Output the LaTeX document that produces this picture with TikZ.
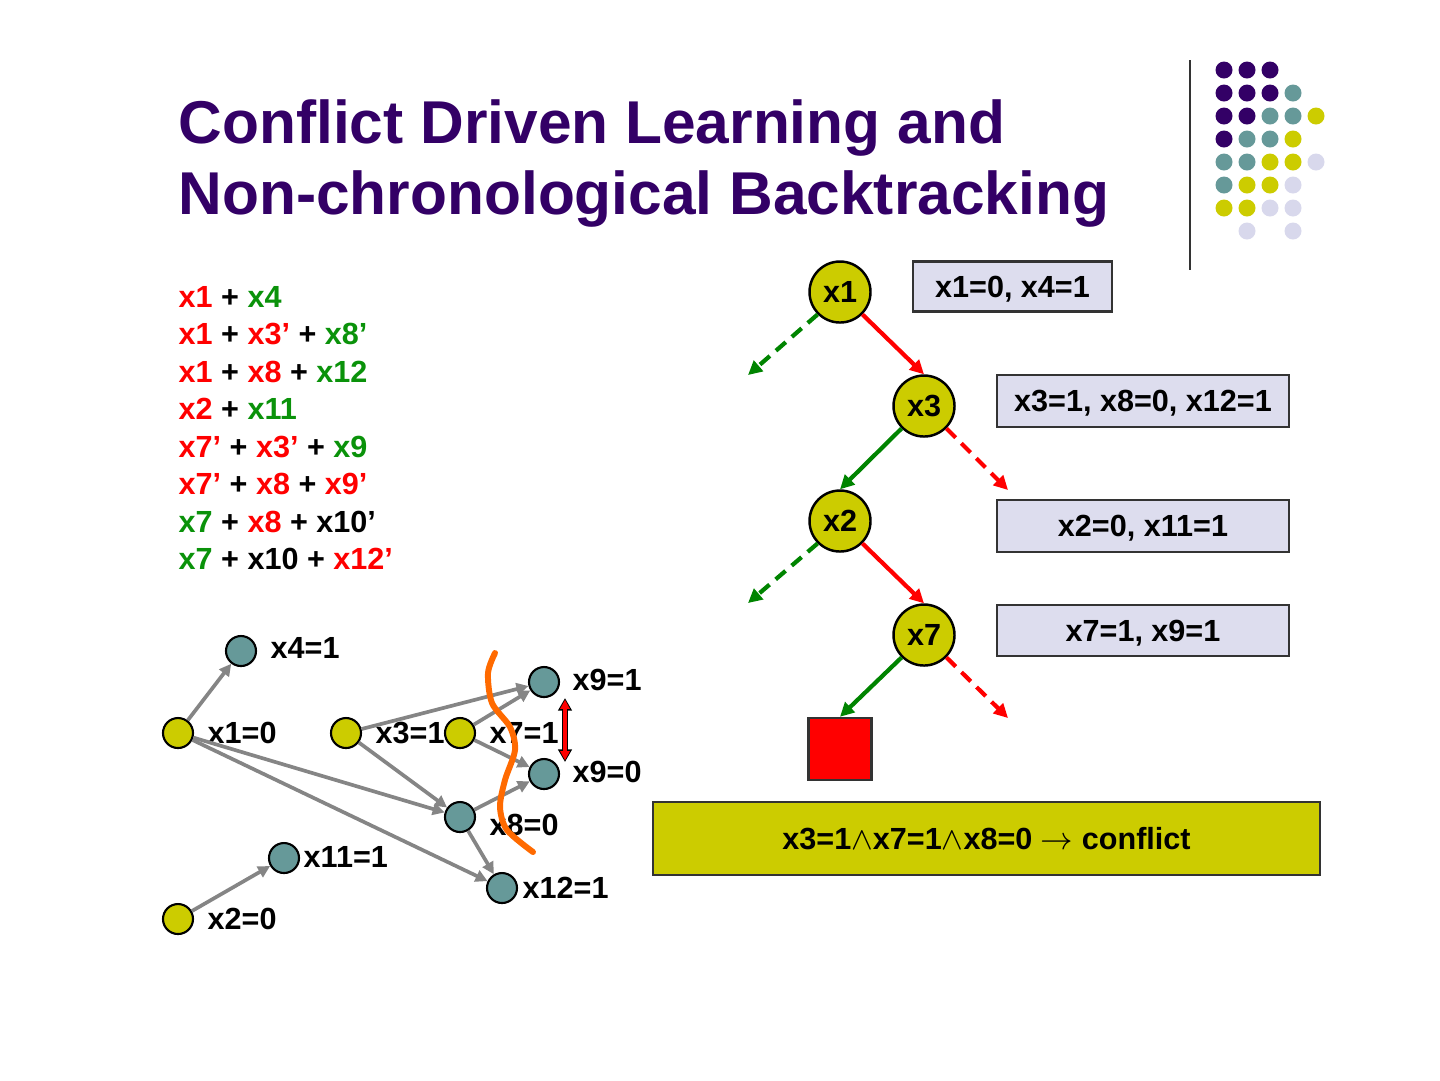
\documentclass[tikz,border=0pt]{standalone}
\usepackage{fontspec}
\setmainfont{Liberation Sans}
\usepackage{amsmath}
\usetikzlibrary{arrows.meta,positioning}
\definecolor{TitlePurple}{HTML}{330066}
\definecolor{NodeYellow} {HTML}{CCCC00}
\definecolor{NodeTeal}   {HTML}{669999}
\definecolor{BoxLavender}{HTML}{DDDDEE}
\definecolor{DotLavender}{HTML}{D8D8EC}
\definecolor{EdgeGray}   {HTML}{858585}
\definecolor{AccentRed}  {HTML}{FF0000}
\definecolor{AccentGreen}{HTML}{0A920A}
\definecolor{TreeGreen}  {HTML}{008400}
\definecolor{CutOrange}  {HTML}{FF6A00}
\newcommand{\litR}[1]{\textcolor{AccentRed}{#1}}
\newcommand{\litG}[1]{\textcolor{AccentGreen}{#1}}
\tikzset{
  ttl/.style={inner sep=0pt,font=\fontsize{17.2}{20}\selectfont\bfseries\color{TitlePurple}},
  cls/.style={anchor=base west,inner sep=0pt,font=\fontsize{8.7}{10.4}\selectfont\bfseries},
  glbl/.style={anchor=west,inner sep=0pt,font=\fontsize{8.7}{10.4}\selectfont\bfseries},
  yvar/.style={circle,draw=black,line width=0.6pt,fill=NodeYellow,
               minimum size=3mm,inner sep=0pt},
  tvar/.style={circle,draw=black,line width=0.6pt,fill=NodeTeal,
               minimum size=3mm,inner sep=0pt},
  tnode/.style={circle,draw=black,line width=0.7pt,fill=NodeYellow,
                minimum size=6.1mm,inner sep=0pt,
                font=\fontsize{8.7}{10.4}\selectfont\bfseries},
  abox/.style={rectangle,draw=black!80,line width=0.7pt,fill=BoxLavender,
               minimum height=5mm,inner sep=0pt,text height=6.2pt,text depth=0pt,
               font=\fontsize{8.7}{10.4}\selectfont\bfseries},
  gedge/.style={-{Triangle[length=3.4pt,width=3.4pt]},EdgeGray,line width=1.05pt},
  tarr/.style={-{Triangle[length=4pt,width=3.9pt]},line width=1.2pt},
  tdash/.style={tarr,dash pattern=on 3.7pt off 2.3pt},
  cut/.style={CutOrange,line width=1.7pt,line cap=round},
}
\begin{document}
\begin{tikzpicture}[x=0.1mm,y=-0.1mm]
  \useasboundingbox (0,0) rectangle (1440,1080);

  % title
  \node[ttl,anchor=base west] (title1) at (178,143) {Conflict Driven Learning and};
  \node[ttl,anchor=base west] (title2) at (178,214) {Non-chronological Backtracking};

  % corner decoration
  \draw[black!80,line width=0.6pt] (1190,60) -- (1190,270);
  \fill[TitlePurple] (1224,70) circle (0.85mm) (1247,70) circle (0.85mm) (1270,70) circle (0.85mm)
    (1224,93) circle (0.85mm) (1247,93) circle (0.85mm) (1270,93) circle (0.85mm)
    (1224,116) circle (0.85mm) (1247,116) circle (0.85mm) (1224,139) circle (0.85mm);
  \fill[NodeTeal] (1293,93) circle (0.85mm) (1270,116) circle (0.85mm) (1293,116) circle (0.85mm)
    (1247,139) circle (0.85mm) (1270,139) circle (0.85mm) (1224,162) circle (0.85mm)
    (1247,162) circle (0.85mm) (1224,185) circle (0.85mm);
  \fill[NodeYellow] (1316,116) circle (0.85mm) (1293,139) circle (0.85mm) (1270,162) circle (0.85mm)
    (1293,162) circle (0.85mm) (1247,185) circle (0.85mm) (1270,185) circle (0.85mm)
    (1224,208) circle (0.85mm) (1247,208) circle (0.85mm);
  \fill[DotLavender] (1316,162) circle (0.85mm) (1293,185) circle (0.85mm) (1270,208) circle (0.85mm)
    (1293,208) circle (0.85mm) (1247,231) circle (0.85mm) (1293,231) circle (0.85mm);

  % clauses
  \node[cls] (cl1) at (178,307.0) {\litR{x1} + \litG{x4}};
  \node[cls] (cl2) at (178,344.5) {\litR{x1} + \litR{x3'} + \litG{x8'}};
  \node[cls] (cl3) at (178,382.0) {\litR{x1} + \litR{x8} + \litG{x12}};
  \node[cls] (cl4) at (178,419.5) {\litR{x2} + \litG{x11}};
  \node[cls] (cl5) at (178,457.0) {\litR{x7'} + \litR{x3'} + \litG{x9}};
  \node[cls] (cl6) at (178,494.5) {\litR{x7'} + \litR{x8} + \litR{x9'}};
  \node[cls] (cl7) at (178,532.0) {\litG{x7} + \litR{x8} + x10'};
  \node[cls] (cl8) at (178,569.5) {\litG{x7} + x10 + \litR{x12'}};

  % implication graph
  \node[tvar] (gx4)  at (241,651) {};
  \node[glbl] (lx4)  at (270,648) {x4=1};
  \node[yvar] (gx1)  at (178,733) {};
  \node[glbl] (lx1)  at (207,733) {x1=0};
  \node[yvar] (gx3)  at (346,733) {};
  \node[glbl] (lx3)  at (375,733) {x3=1};
  \node[yvar] (gx7)  at (460,733) {};
  \node[glbl] (lx7)  at (489,733) {x7=1};
  \node[tvar] (gx9a) at (544,682) {};
  \node[glbl] (lx9a) at (572,680) {x9=1};
  \node[tvar] (gx9b) at (544,774) {};
  \node[glbl] (lx9b) at (572,772) {x9=0};
  \node[tvar] (gx8)  at (460,817) {};
  \node[glbl] (lx8)  at (489,825) {x8=0};
  \node[tvar] (gx11) at (284,858) {};
  \node[glbl] (lx11) at (303,857) {x11=1};
  \node[tvar] (gx12) at (502,888) {};
  \node[glbl] (lx12) at (522,888) {x12=1};
  \node[yvar] (gx2)  at (178,919) {};
  \node[glbl] (lx2)  at (207,919) {x2=0};

  \draw[gedge] (gx1) -- (gx4);
  \draw[gedge] (gx1) -- (gx8);
  \draw[gedge] (gx1) -- (gx12);
  \draw[gedge] (gx3) -- (gx8);
  \draw[gedge] (gx3) -- (gx9a);
  \draw[gedge] (gx7) -- (gx9a);
  \draw[gedge] (gx7) -- (gx9b);
  \draw[gedge] (gx8) -- (gx9b);
  \draw[gedge] (gx8) -- (gx12);
  \draw[gedge] (gx2) -- (gx11);

  % cut and the clash of x9
  \draw[cut] plot[smooth] coordinates {(495,653) (488,673) (492,703) (510,727) (515,750)
    (505,780) (500,807) (507,830) (533,852)};
  \coordinate (d9top) at (565,698);
  \coordinate (d9bot) at (565,762);
  \draw[{Triangle[length=3.6pt,width=3.8pt]}-{Triangle[length=3.6pt,width=3.8pt]},
        black,line width=1.7pt] (d9top) -- (d9bot);
  \draw[{Triangle[length=2.6pt,width=2.6pt]}-{Triangle[length=2.6pt,width=2.6pt]},
        AccentRed,line width=0.9pt,shorten <=0.5pt,shorten >=0.5pt] (d9top) -- (d9bot);

  % decision tree
  \node[tnode] (tx1) at (840,292) {x1};
  \node[tnode] (tx3) at (924,406) {x3};
  \node[tnode] (tx2) at (840,521) {x2};
  \node[tnode] (tx7) at (924,635) {x7};
  \node[rectangle,draw=black!80,line width=0.7pt,fill=AccentRed,
        minimum width=6.3mm,minimum height=6.2mm] (confsq) at (840,749) {};

  \coordinate (fx1) at (748,375);
  \coordinate (fx3) at (1008,490);
  \coordinate (fx2) at (748,603);
  \coordinate (fx7) at (1008,718);

  \draw[tdash,TreeGreen]  (tx1.-135) -- (fx1);
  \draw[tarr,AccentRed]   (tx1.-45)  -- (tx3.north);
  \draw[tarr,TreeGreen]   (tx3.-135) -- (tx2.north);
  \draw[tdash,AccentRed]  (tx3.-45)  -- (fx3);
  \draw[tdash,TreeGreen]  (tx2.-135) -- (fx2);
  \draw[tarr,AccentRed]   (tx2.-45)  -- (tx7.north);
  \draw[tarr,TreeGreen]   (tx7.-135) -- (confsq.north);
  \draw[tdash,AccentRed]  (tx7.-45)  -- (fx7);

  \node[abox,minimum width=19.9mm] (bx1) at (1012.5,286.5) {x1=0, x4=1};
  \node[abox,minimum width=29.2mm,minimum height=5.2mm] (bx3) at (1143,401) {x3=1, x8=0, x12=1};
  \node[abox,minimum width=29.2mm,minimum height=5.2mm] (bx2) at (1143,526) {x2=0, x11=1};
  \node[abox,minimum width=29.2mm,minimum height=5.1mm] (bx7) at (1143,630.5) {x7=1, x9=1};

  \node[abox,fill=NodeYellow,minimum width=66.7mm,minimum height=7.3mm] (confbox)
    at (986.5,838.5) {x3=1$\wedge$x7=1$\wedge$x8=0 $\rightarrow$ conflict};

\end{tikzpicture}
\end{document}
